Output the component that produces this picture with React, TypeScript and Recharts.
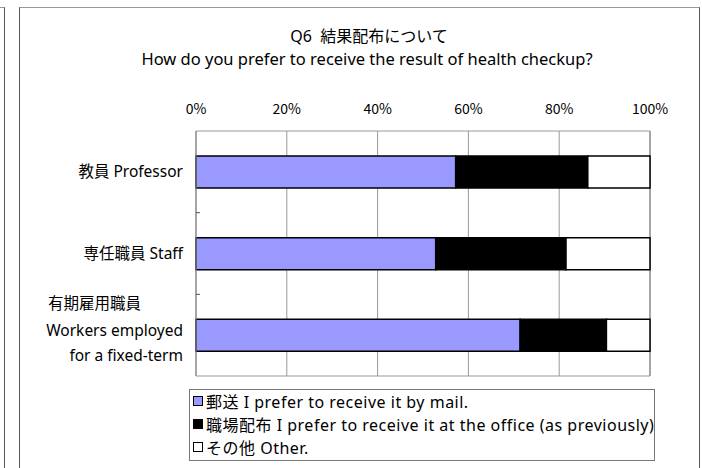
import React from 'react';
import { BarChart, Bar, XAxis, YAxis, CartesianGrid, ReferenceArea } from 'recharts';

const categories = ['教員 Professor', '専任職員 Staff', '有期雇用職員\nWorkers employed\nfor a fixed-term'];
const mailValues = [57.2, 52.8, 71.4];
const officeValues = [29.1, 28.7, 19.0];
const otherValues = [13.7, 18.5, 9.6];
const seriesNames = ['郵送 I prefer to receive it by mail.', '職場配布 I prefer to receive it at the office (as previously)', 'その他 Other.'];
const seriesColors = ['#9999FF', '#000000', '#FFFFFF'];
const xTicks = [0, 20, 40, 60, 80, 100];

const data = categories.map((c, i) => ({
  name: c,
  mail: mailValues[i],
  office: officeValues[i],
  other: otherValues[i],
}));

const FONT = '"Noto Sans", "Noto Sans CJK JP", sans-serif';
const TICKFONT = '"Noto Sans CJK JP", sans-serif';

const CatTick = (props: any) => {
  const { x, y, payload, index, visibleTicksCount } = props;
  const lines: string[] = String(payload.value).split('\n');
  const half = payload && typeof payload.offset === 'number' ? payload.offset : 0;
  const axisX = x + 13;
  const boundary =
    index < (visibleTicksCount ?? 3) - 1 && half > 0 ? (
      <line x1={axisX} x2={axisX + 4} y1={y + half} y2={y + half} stroke="#555" strokeWidth={1} />
    ) : null;
  const fs = 15.5;
  if (lines.length === 1) {
    return (
      <g>
        {boundary}
        <text x={x} y={y} dy={5} textAnchor="end" fontSize={fs} fill="#000" fontFamily={FONT}>
          {lines[0]}
        </text>
      </g>
    );
  }
  return (
    <g>
      {boundary}
      <text x={48} y={y - 31} dy={5} textAnchor="start" fontSize={fs} fill="#000" fontFamily={FONT}>{lines[0]}</text>
      <text x={x} y={y - 4} dy={5} textAnchor="end" fontSize={fs} fill="#000" fontFamily={FONT}>{lines[1]}</text>
      <text x={x} y={y + 21} dy={5} textAnchor="end" fontSize={fs} fill="#000" fontFamily={FONT}>{lines[2]}</text>
    </g>
  );
};

export default function App() {
  return (
    <div style={{ position: 'absolute', left: 0, top: 0, width: 702, height: 468, background: '#fff', fontFamily: FONT }}>
      <div style={{ position: 'absolute', left: 0, top: 7, width: 4, height: 470, borderTop: '1px solid #999', borderRight: '1px solid #555' }} />
      <div style={{ position: 'absolute', left: 19, top: 7, width: 679, height: 470, borderTop: '1px solid #999', borderLeft: '1px solid #555', borderRight: '1px solid #555' }} />
      <div style={{ position: 'absolute', left: 0, top: 26, width: 738, textAlign: 'center', fontSize: 16, color: '#000', lineHeight: '20px' }}>
        Q6&nbsp;&nbsp;結果配布について
      </div>
      <div style={{ position: 'absolute', left: 0, top: 49, width: 734, textAlign: 'center', fontSize: 16.5, color: '#000', lineHeight: '20px' }}>
        How do you prefer to receive the result of health checkup?
      </div>
      <div style={{ position: 'absolute', left: 0, top: 0 }}>
        <BarChart
          width={702}
          height={468}
          data={data}
          layout="vertical"
          margin={{ top: 101, right: 52, bottom: 92, left: 16 }}
          barCategoryGap={0}
        >
          <CartesianGrid horizontal={false} vertical={true} stroke="#999" strokeWidth={1} />
          <XAxis
            type="number"
            orientation="top"
            domain={[0, 100]}
            ticks={xTicks}
            tickFormatter={(v: number) => `${v}%`}
            axisLine={false}
            tickLine={false}
            height={30}
            tickMargin={11}
            tick={{ fontSize: 14, fill: '#000', fontFamily: TICKFONT }}
            interval={0}
          />
          <YAxis
            type="category"
            dataKey="name"
            width={180}
            axisLine={{ stroke: '#999' }}
            tickLine={false}
            tickMargin={7}
            tick={<CatTick />}
            interval={0}
          />
          <ReferenceArea x1={0} x2={100} fill="none" stroke="#999" strokeWidth={1} ifOverflow="visible" />
          <Bar dataKey="mail" stackId="s" fill={seriesColors[0]} stroke="#000" strokeWidth={1.5} barSize={32} isAnimationActive={false} />
          <Bar dataKey="office" stackId="s" fill={seriesColors[1]} stroke="#000" strokeWidth={1.5} barSize={32} isAnimationActive={false} />
          <Bar dataKey="other" stackId="s" fill={seriesColors[2]} stroke="#000" strokeWidth={1.5} barSize={32} isAnimationActive={false} />
        </BarChart>
      </div>
      <div style={{ position: 'absolute', left: 189, top: 389, width: 464, height: 70, border: '1px solid #777', background: '#fff' }}>
        {seriesNames.map((n, i) => (
          <div key={n} style={{ position: 'absolute', left: 3, top: -1 + i * 23, height: 23, display: 'flex', alignItems: 'center', whiteSpace: 'nowrap', fontSize: 16, letterSpacing: 0.5, color: '#000' }}>
            <span style={{ display: 'inline-block', width: 8, height: 8, border: '1.5px solid #000', background: seriesColors[i], marginRight: 3 }} />
            <span>{n}</span>
          </div>
        ))}
      </div>
    </div>
  );
}
